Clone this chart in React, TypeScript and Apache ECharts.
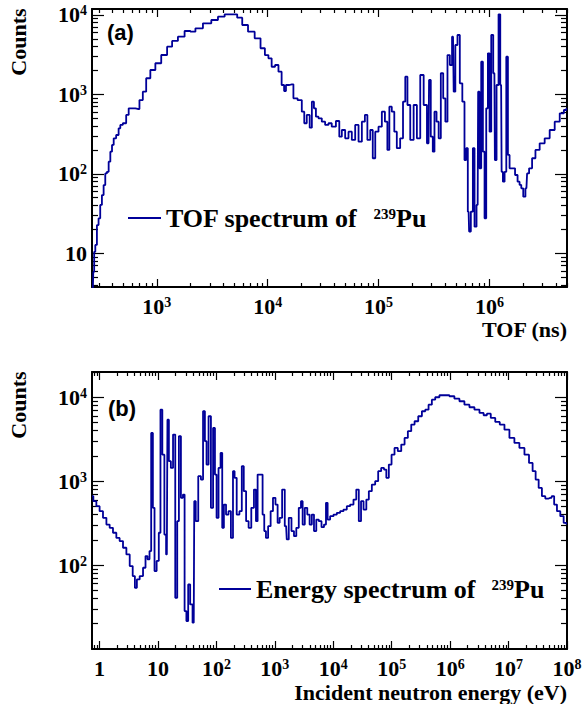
import React, { useEffect, useRef } from 'react';
import * as echarts from 'echarts';

// ---------- Data ----------
const tofNs = [
  264, 270, 274, 283, 293, 303, 314, 325, 337, 348,
  361, 374, 387, 401, 415, 444, 460, 476, 511, 547,
  567, 607, 673, 721, 774, 829, 920, 1021, 1174, 1303,
  1445, 1660, 1905, 2115, 2345, 2890, 3320, 3810, 4380, 5030,
  5590, 6200, 7110, 8170, 9070, 9790, 10500, 11200, 12100, 12900,
  13800, 14300, 14900, 16500, 17600, 19600, 21000, 21700, 23300, 24500,
  25500, 26700, 27700, 29700, 31800, 34100, 36500, 39100, 43400, 45000,
  48200, 51700, 55400, 59300, 63700, 68200, 73100, 77300, 81100, 87100,
  90000, 96600, 103000, 111000, 117000, 123000, 127000, 136000, 141000, 151000,
  162000, 170000, 178000, 186000, 200000, 214000, 229000, 246000, 264000, 282000,
  288000, 303000, 313000, 325000, 341000, 355000, 373000, 392000, 408000, 428000,
  450000, 469000, 482000, 502000, 527000, 553000, 585000, 605000, 627000, 648000,
  662000, 696000, 720000, 746000, 782000, 798000, 827000, 857000, 887000, 918000,
  951000, 984000, 1019000, 1055000, 1107000, 1130000, 1186000, 1228000, 1273000, 1300000,
  1343000, 1393000, 1442000, 1490000, 1545000, 1652000, 1749000, 1835000, 1901000, 1968000,
  2065000, 2153000, 2213000, 2340000, 2506000, 2690000, 2985000, 3313000, 3676000, 4080000,
  4530000, 4850000, 5000000,
];
const tofCounts = [
  3, 5.8, 10.4, 12.7, 22.6, 27.5, 40.5, 54, 72, 101,
  106, 142, 190, 231, 280, 308, 374, 412, 433, 551,
  668, 668, 655, 849, 1081, 1596, 2028, 2466, 3135, 3990,
  4710, 5330, 6290, 6160, 6800, 7860, 8650, 9520, 10200, 10200,
  9250, 7480, 6160, 5090, 3810, 3130, 2850, 2230, 2345, 1930,
  1313, 1104, 1313, 1340, 893, 849, 606, 433, 551, 381,
  809, 668, 524, 500, 453, 412, 433, 392, 462, 293,
  356, 280, 339, 267, 412, 254, 453, 551, 267, 356,
  157, 339, 392, 606, 453, 200, 700, 606, 339, 210,
  280, 809, 1670, 735, 267, 735, 280, 1755, 735, 242,
  1518, 293, 190, 606, 453, 280, 1845, 893, 453, 3130,
  2345, 5330, 1081, 4190, 5600, 1380, 809, 149, 210, 33.3,
  18.7, 33.3, 210, 21.6, 40.5, 1081, 117, 2580, 190, 27.5,
  668, 3290, 339, 5600, 1845, 149, 1313, 10200, 1313, 106,
  79.6, 106, 2985, 173, 117, 117, 96.6, 79.6, 72.3, 65.6,
  51.5, 65.6, 101, 117, 157, 200, 242, 280, 356, 453,
  578, 636, 660,
];

const energyEv = [
  0.744, 0.828, 0.942, 1.07, 1.23, 1.40, 1.59, 1.82, 2.07, 2.36,
  2.70, 3.08, 3.51, 3.90, 4.17, 4.56, 5.20, 5.94, 6.32, 6.95,
  7.41, 7.92, 8.47, 9.02, 10.0, 10.7, 11.4, 12.4, 13.4, 14.2,
  14.9, 15.9, 17.4, 18.9, 20.7, 22.1, 23.6, 25.9, 27.7, 29.5,
  31.9, 34.0, 37.3, 41.0, 42.7, 46.1, 52.0, 56.9, 61.5, 65.8,
  70.1, 77.1, 84.4, 91.4, 97.7, 104, 114, 122, 130, 139,
  154, 169, 186, 199, 211, 235, 262, 283, 306, 340,
  373, 420, 460, 492, 524, 598, 638, 682, 729, 809,
  889, 973, 1082, 1153, 1267, 1403, 1561, 1643, 1828, 2033,
  2228, 2438, 2710, 2900, 3090, 3436, 3760, 4130, 4470, 4900,
  5360, 5970, 6640, 7260, 7760, 8270, 9460, 10800, 12300, 14000,
  16000, 18200, 20800, 23700, 25900, 28900, 30900, 35200, 38500, 42900,
  48800, 55800, 61800, 70600, 77400, 84700, 94200, 105000, 119000, 136000,
  156000, 177000, 202000, 231000, 263000, 308000, 351000, 401000, 456000, 520000,
  594000, 724000, 882000, 1070000, 1310000, 1590000, 1940000, 2360000, 2880000, 3510000,
  3990000, 4550000, 5410000, 6480000, 7710000, 9390000, 11400000, 13900000, 16900000, 20700000,
  24200000, 27500000, 30700000, 34900000, 39700000, 45500000, 51800000, 57600000, 63100000, 71800000,
  82100000, 93500000, 100000000,
];
const energyCounts = [
  662, 578, 504, 439, 366, 304, 278, 243, 211, 193,
  161, 134, 97.3, 74, 53.7, 67.4, 74, 92.9, 128, 117,
  147, 3760, 481, 84.9, 112, 243, 7120, 2070, 231, 134,
  5410, 1730, 1440, 3590, 40.8, 334, 3430, 633, 692, 28.3,
  21.5, 58.7, 34.0, 20.6, 578, 334, 1148, 1045, 6810, 2995,
  1577, 5940, 481, 4310, 1198, 366, 1440, 2170, 278, 526,
  400, 439, 211, 1315, 1095, 400, 439, 1510, 760, 334,
  278, 481, 794, 334, 1198, 1198, 400, 254, 211, 291,
  439, 633, 526, 319, 366, 794, 291, 202, 366, 254,
  221, 278, 481, 578, 304, 481, 400, 304, 400, 254,
  349, 334, 283, 304, 552, 349, 383, 400, 420, 439,
  459, 504, 526, 604, 794, 334, 578, 459, 604, 760,
  911, 1000, 1315, 1440, 1374, 1095, 1577, 2070, 2490, 2275,
  2730, 3275, 3940, 4720, 5180, 5940, 6810, 7120, 8160, 9360,
  10000, 10570, 10570, 10280, 9620, 8960, 8160, 7600, 7120, 6500,
  6100, 6380, 5670, 5080, 4720, 4110, 3275, 2860, 2490, 2070,
  1650, 1315, 1045, 832, 662, 621, 633, 662, 526, 439,
  383, 319, 310,
];

// Tick values
const tofMajorTicks = [1e3, 1e4, 1e5, 1e6];
const tofMinorTicks = [
  300, 400, 500, 600, 700, 800, 900,
  2e3, 3e3, 4e3, 5e3, 6e3, 7e3, 8e3, 9e3,
  2e4, 3e4, 4e4, 5e4, 6e4, 7e4, 8e4, 9e4,
  2e5, 3e5, 4e5, 5e5, 6e5, 7e5, 8e5, 9e5,
  2e6, 3e6, 4e6, 5e6,
];
const countsAMajorTicks = [10, 100, 1000, 10000];
const countsAMinorTicks = [
  4, 5, 6, 7, 8, 9,
  20, 30, 40, 50, 60, 70, 80, 90,
  200, 300, 400, 500, 600, 700, 800, 900,
  2000, 3000, 4000, 5000, 6000, 7000, 8000, 9000,
];
const energyMajorTicks = [1, 10, 1e2, 1e3, 1e4, 1e5, 1e6, 1e7, 1e8];
const energyMinorTicks = [
  0.8, 0.9,
  2, 3, 4, 5, 6, 7, 8, 9,
  20, 30, 40, 50, 60, 70, 80, 90,
  200, 300, 400, 500, 600, 700, 800, 900,
  2e3, 3e3, 4e3, 5e3, 6e3, 7e3, 8e3, 9e3,
  2e4, 3e4, 4e4, 5e4, 6e4, 7e4, 8e4, 9e4,
  2e5, 3e5, 4e5, 5e5, 6e5, 7e5, 8e5, 9e5,
  2e6, 3e6, 4e6, 5e6, 6e6, 7e6, 8e6, 9e6,
  2e7, 3e7, 4e7, 5e7, 6e7, 7e7, 8e7, 9e7,
];
const countsBMajorTicks = [100, 1000, 10000];
const countsBMinorTicks = [
  20, 30, 40, 50, 60, 70, 80, 90,
  200, 300, 400, 500, 600, 700, 800, 900,
  2000, 3000, 4000, 5000, 6000, 7000, 8000, 9000,
  20000,
];

const TOF_NAME = 'TOF spectrum of 239Pu';
const E_NAME = 'Energy spectrum of 239Pu';

// ---------- Styling ----------
const SERIF = '"Liberation Serif", "Times New Roman", Times, serif';
const SANS = '"Liberation Sans", Arial, Helvetica, sans-serif';
const BLUE = '#000099';

// tick labels: base centred in a 22px line box, superscript pinned to its top
const powRich = {
  b: { fontFamily: SERIF, fontWeight: 'bold', fontSize: 22, lineHeight: 22, color: '#000' },
  s: { fontFamily: SERIF, fontWeight: 'bold', fontSize: 14, lineHeight: 8, verticalAlign: 'top', color: '#000' },
};

const fmtPow = (v: number) => {
  const e = Math.round(Math.log10(v));
  if (e === 0) return '{b|1}';
  if (e === 1) return '{b|10}';
  return `{b|10}{s|${e}}`;
};

function makeAxes(
  dim: 'x' | 'y',
  gridIndex: number,
  min: number,
  max: number,
  major: number[],
  minor: number[],
  majorLen: number,
  minorLen: number,
  labelMargin: number,
) {
  const pos = dim === 'x' ? ['bottom', 'top'] : ['left', 'right'];
  const base = {
    type: 'log',
    logBase: 10,
    gridIndex,
    min,
    max,
    splitLine: { show: false },
    minorTick: { show: false },
    minorSplitLine: { show: false },
    silent: true,
  };
  const tickStyle = { color: '#000', width: 1.2 };
  const lineStyle = { color: '#000', width: 2 };
  return [
    {
      ...base,
      position: pos[0],
      axisLine: { show: true, onZero: false, lineStyle },
      axisTick: { show: true, inside: true, length: majorLen, customValues: major, lineStyle: tickStyle },
      axisLabel: {
        show: true,
        customValues: major,
        margin: labelMargin,
        formatter: fmtPow,
        rich: powRich,
        color: '#000',
      },
    },
    {
      ...base,
      position: pos[0],
      axisLine: { show: false, onZero: false },
      axisTick: { show: true, inside: true, length: minorLen, customValues: minor, lineStyle: tickStyle },
      axisLabel: { show: false },
    },
    {
      ...base,
      position: pos[1],
      axisLine: { show: true, onZero: false, lineStyle },
      axisTick: { show: true, inside: true, length: majorLen, customValues: major, lineStyle: tickStyle },
      axisLabel: { show: false },
    },
    {
      ...base,
      position: pos[1],
      axisLine: { show: false, onZero: false },
      axisTick: { show: true, inside: true, length: minorLen, customValues: minor, lineStyle: tickStyle },
      axisLabel: { show: false },
    },
  ];
}

const legendRich = {
  n: { fontFamily: SERIF, fontWeight: 'bold', fontSize: 26, lineHeight: 30, color: '#000' },
  s: {
    fontFamily: SERIF,
    fontWeight: 'bold',
    fontSize: 15,
    lineHeight: 15,
    verticalAlign: 'top',
    padding: [3, 0, 0, 16],
    color: '#000',
  },
};

function textEl(text: string, x: number, y: number, align: string, size: number, family: string, rotation = 0) {
  return {
    type: 'text',
    x,
    y,
    rotation,
    silent: true,
    style: {
      text,
      fill: '#000',
      fontSize: size,
      fontWeight: 'bold',
      fontFamily: family,
      textAlign: align,
      textVerticalAlign: 'middle',
      align,
      verticalAlign: 'middle',
    },
  };
}

export default function App() {
  const ref = useRef<HTMLDivElement>(null);

  useEffect(() => {
    if (!ref.current) return;
    const chart = echarts.init(ref.current, null, { renderer: 'svg', width: 582, height: 704 });

    const option: any = {
      animation: false,
      backgroundColor: '#fff',
      grid: [
        { left: 92, top: 9, width: 475, height: 278, outerBoundsMode: 'none', containLabel: false },
        { left: 92, top: 372, width: 475, height: 277, outerBoundsMode: 'none', containLabel: false },
      ],
      xAxis: [
        ...makeAxes('x', 0, 260, 5e6, tofMajorTicks, tofMinorTicks, 8, 4, 8),
        ...makeAxes('x', 1, 0.744, 1e8, energyMajorTicks, energyMinorTicks, 8, 4, 8),
      ],
      yAxis: [
        ...makeAxes('y', 0, 3.75, 11900, countsAMajorTicks, countsAMinorTicks, 12, 6, 5),
        ...makeAxes('y', 1, 10, 20000, countsBMajorTicks, countsBMinorTicks, 12, 6, 5),
      ],
      legend: [
        {
          data: [TOF_NAME],
          left: 128,
          top: 203,
          padding: 0,
          itemWidth: 33,
          itemHeight: 2,
          icon: 'rect',
          selectedMode: false,
          formatter: () => '{n|TOF spectrum of}{s|239}{n|Pu}',
          textStyle: { rich: legendRich },
        },
        {
          data: [E_NAME],
          left: 219,
          top: 574,
          padding: 0,
          itemWidth: 32,
          itemHeight: 2,
          icon: 'rect',
          selectedMode: false,
          formatter: () => '{n|Energy spectrum of}{s|239}{n|Pu}',
          textStyle: { rich: legendRich },
        },
      ],
      graphic: [
        textEl('Counts', 18.5, 42, 'center', 22, SERIF, Math.PI / 2),
        textEl('Counts', 18.5, 405, 'center', 22, SERIF, Math.PI / 2),
        textEl('(a)', 107, 32, 'left', 22, SANS),
        textEl('(b)', 108, 408, 'left', 22, SANS),
        textEl('TOF (ns)', 567, 329, 'right', 22, SERIF),
        textEl('Incident neutron energy (eV)', 567, 692, 'right', 22, SERIF),
      ],
      series: [
        {
          name: TOF_NAME,
          type: 'line',
          xAxisIndex: 0,
          yAxisIndex: 0,
          data: tofNs.map((x, i) => [x, tofCounts[i]]),
          showSymbol: false,
          symbol: 'none',
          step: 'middle',
          color: BLUE,
          lineStyle: { color: BLUE, width: 1.8 },
          clip: true,
          silent: true,
        },
        {
          name: E_NAME,
          type: 'line',
          xAxisIndex: 4,
          yAxisIndex: 4,
          data: energyEv.map((x, i) => [x, energyCounts[i]]),
          showSymbol: false,
          symbol: 'none',
          step: 'middle',
          color: BLUE,
          lineStyle: { color: BLUE, width: 1.8 },
          clip: true,
          silent: true,
        },
      ],
    };

    chart.setOption(option);
    return () => {
      chart.dispose();
    };
  }, []);

  return (
    <div
      ref={ref}
      style={{ position: 'fixed', left: 0, top: 0, width: 582, height: 704, background: '#fff' }}
    />
  );
}
